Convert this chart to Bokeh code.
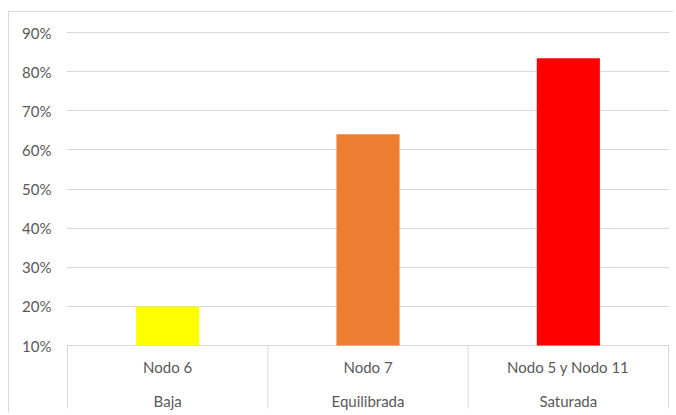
from bokeh.plotting import figure
from bokeh.models import Range1d, FixedTicker, NumeralTickFormatter, ColumnDataSource
from bokeh.core.properties import value
from bokeh.embed import file_html
from bokeh.resources import INLINE

# ---- data ----
categories = ["Nodo 6", "Nodo 7", "Nodo 5 y Nodo 11"]
groups = ["Baja", "Equilibrada", "Saturada"]
values = [0.20, 0.64, 0.834]
colors = ["#FFFF00", "#ED7D31", "#FF0000"]
y_ticks = [0.1, 0.2, 0.3, 0.4, 0.5, 0.6, 0.7, 0.8, 0.9]
AXIS_MIN = 0.1
AXIS_MAX = 0.9

# ---- layout geometry (pixels) ----
W, H = 665, 401
frame_left, frame_right = 57, 5
frame_h = H
px_per_unit = 313 / (AXIS_MAX - AXIS_MIN)
top_pad_px = 20
y_end = AXIS_MAX + top_pad_px / px_per_unit
y_start = y_end - frame_h / px_per_unit

FONT = "Lato"
FONT_SIZE = "15px"
TEXT_COLOR = "#595959"

n = len(categories)
idx = list(range(n))
centers = [i + 0.5 for i in idx]

p = figure(width=W, height=H, output_backend="svg", toolbar_location=None,
           x_range=Range1d(-0.005, n + 0.005), y_range=Range1d(y_start, y_end),
           min_border_left=frame_left, min_border_right=frame_right,
           min_border_top=0, min_border_bottom=0)
p.styles = {"margin-left": "8px", "margin-top": "11px",
            "border-left": "1px solid #d9d9d9", "border-top": "1px solid #d9d9d9"}
p.outline_line_color = None
p.xaxis.visible = False
p.xgrid.visible = False

p.yaxis.ticker = FixedTicker(ticks=y_ticks)
p.yaxis.formatter = NumeralTickFormatter(format="0%")
p.yaxis.axis_line_color = None
p.yaxis.major_tick_line_color = None
p.yaxis.minor_tick_line_color = None
p.yaxis.major_tick_out = 0
p.yaxis.major_label_standoff = 15
p.yaxis.major_label_text_font = FONT
p.yaxis.major_label_text_font_size = FONT_SIZE
p.yaxis.major_label_text_color = TEXT_COLOR

p.ygrid.grid_line_color = "#d9d9d9"
p.ygrid.grid_line_width = 1

src = ColumnDataSource(dict(x=centers, top=values, color=colors, cat=categories, grp=groups))
p.vbar(x="x", top="top", bottom=AXIS_MIN, width=0.315, fill_color="color",
       line_color=None, source=src)

# category separators
sep_bottom = y_start + 5 / px_per_unit
p.segment(x0=list(range(n + 1)), x1=list(range(n + 1)),
          y0=[AXIS_MIN] * (n + 1), y1=[sep_bottom] * (n + 1),
          line_color="#d9d9d9", line_width=1)

row1_y = AXIS_MIN - 21 / px_per_unit
row2_y = AXIS_MIN - 55 / px_per_unit
p.text(x="x", y=row1_y, text="cat", source=src, text_align="center",
       text_baseline="middle", text_font=value(FONT), text_font_size=FONT_SIZE,
       text_color=TEXT_COLOR)
p.text(x="x", y=row2_y, text="grp", source=src, text_align="center",
       text_baseline="middle", text_font=value(FONT), text_font_size=FONT_SIZE,
       text_color=TEXT_COLOR)

open("out.html", "w").write(file_html(p, INLINE))
